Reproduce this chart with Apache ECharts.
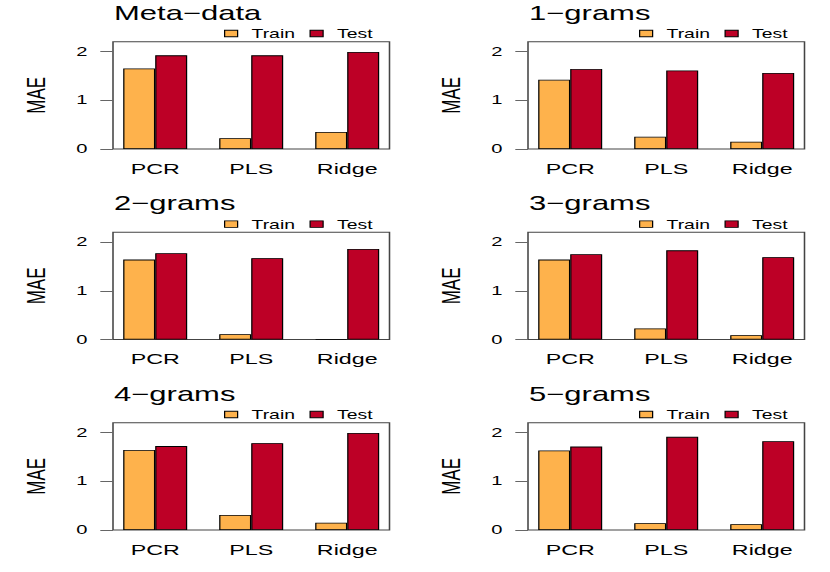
<!DOCTYPE html>
<html>
<head>
<meta charset="utf-8">
<script src="https://cdn.jsdelivr.net/npm/echarts@6/dist/echarts.min.js"></script>
<style>
html,body{margin:0;padding:0;background:#fff;}
#wrap{width:830px;height:572px;overflow:hidden;}
#main{height:572px;transform-origin:0 0;}
</style>
</head>
<body>
<div id="wrap"><div id="main"></div></div>
<script>
// ---- data ----
const panelTitles = ['Meta\u2212data', '1\u2212grams', '2\u2212grams', '3\u2212grams', '4\u2212grams', '5\u2212grams'];
const categories = ['PCR', 'PLS', 'Ridge'];
const seriesNames = ['Train', 'Test'];
const yTicks = [0, 1, 2];
const trainMeta = [1.65, 0.22, 0.35];
const testMeta  = [1.92, 1.92, 1.99];
const train1g = [1.42, 0.25, 0.15];
const test1g  = [1.64, 1.61, 1.56];
const train2g = [1.64, 0.11, 0.01];
const test2g  = [1.77, 1.67, 1.86];
const train3g = [1.64, 0.23, 0.09];
const test3g  = [1.75, 1.83, 1.69];
const train4g = [1.64, 0.31, 0.15];
const test4g  = [1.72, 1.78, 1.99];
const train5g = [1.63, 0.14, 0.12];
const test5g  = [1.71, 1.91, 1.82];
const trainAll = [trainMeta, train1g, train2g, train3g, train4g, train5g];
const testAll  = [testMeta, test1g, test2g, test3g, test4g, test5g];

// ---- layout (reference image is horizontally stretched) ----
const S = 1.55;
const el = document.getElementById('main');
el.style.width = (830 / S) + 'px';
el.style.transform = 'scaleX(' + S + ')';
const px = v => v / S;
const FONT = '"Liberation Sans", Arial, Helvetica, sans-serif';
const colBoxLeft = [113, 528];
const boxW = 276.5;
const rowTop = [41.7, 232.3, 422.7];
const boxH = 107.3;
const unit = 32;
const colors = ['#FEB24C', '#BD0026'];

const chart = echarts.init(el, null, { renderer: 'svg' });
const grid = [], xAxis = [], yAxis = [], series = [], title = [], legend = [];

for (let i = 0; i < 6; i++) {
  const r = Math.floor(i / 2), c = i % 2;
  const bl = colBoxLeft[c], top = rowTop[r];
  // box grid
  grid.push({ left: px(bl), top: top, width: px(boxW), height: boxH, show: true,
    borderColor: '#444', borderWidth: 1, backgroundColor: 'transparent' });
  // bar grid
  grid.push({ left: px(bl - 5.8), top: top, width: px(9 * unit), height: boxH, show: false });
  const gb = 2 * i, gr = 2 * i + 1;
  xAxis.push({ gridIndex: gb, type: 'value', min: 0, max: 1, show: false });
  yAxis.push({ gridIndex: gb, type: 'value', min: 0, max: 2.2,
    axisLine: { show: false },
    axisTick: { show: true, length: px(12.7), customValues: yTicks, lineStyle: { color: '#666', width: 1 } },
    axisLabel: { customValues: yTicks, margin: px(25.5), fontSize: 13, color: '#000', fontFamily: FONT },
    splitLine: { show: false },
    name: 'MAE', nameLocation: 'middle', nameRotate: 90, nameGap: 41,
    nameTextStyle: { fontSize: 17, color: '#000', fontFamily: FONT } });
  xAxis.push({ gridIndex: gr, type: 'category', data: categories,
    axisLine: { show: false }, axisTick: { show: false },
    axisLabel: { margin: 12, fontSize: 15, color: '#000', fontFamily: FONT } });
  yAxis.push({ gridIndex: gr, type: 'value', min: 0, max: 2.2, show: false });
  const vals = [trainAll[i], testAll[i]];
  for (let k = 0; k < 2; k++) {
    series.push({ type: 'bar', name: seriesNames[k], xAxisIndex: i * 2 + 1, yAxisIndex: i * 2 + 1,
      data: vals[k], barWidth: px(unit), barGap: '0%',
      itemStyle: { color: colors[k], borderColor: '#000', borderWidth: 0.8 },
      emphasis: { disabled: true }, animation: false });
  }
  title.push({ text: panelTitles[i], left: px(bl + 1), top: top - 39, padding: 0,
    textStyle: { fontSize: 20, fontWeight: 'normal', color: '#000', fontFamily: FONT } });
  legend.push({ data: seriesNames, left: px(bl + 111), top: top - 14.7, padding: 0,
    icon: 'rect', itemWidth: px(13), itemHeight: 6.5, itemGap: px(14.5),
    itemStyle: { borderColor: '#000', borderWidth: 0.8 },
    textStyle: { fontSize: 12.5, color: '#000', fontFamily: FONT, padding: [0, 0, 0, 4] },
    selectedMode: false });
}

chart.setOption({ animation: false, backgroundColor: '#fff', title, legend, grid, xAxis, yAxis, series });
</script>
</body>
</html>
